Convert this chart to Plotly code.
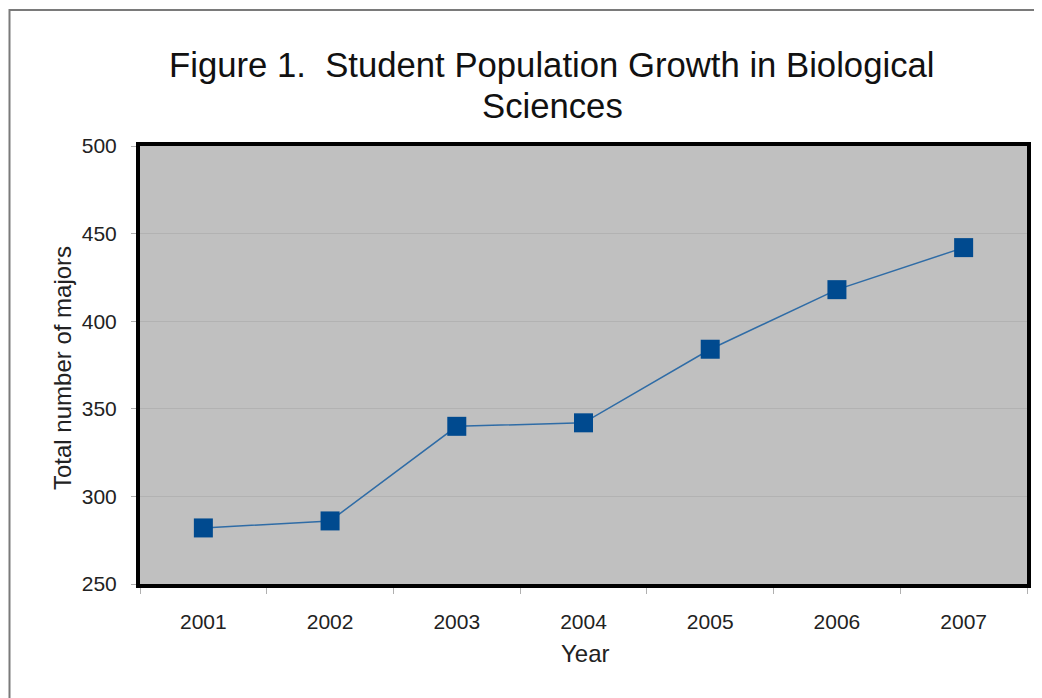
import plotly.graph_objects as go

years = ["2001", "2002", "2003", "2004", "2005", "2006", "2007"]
majors = [282, 286, 340, 342, 384, 418, 442]
y_ticks = [250, 300, 350, 400, 450, 500]

OFF = 8  # page body margin
W, H = 1042 - OFF, 698 - OFF
L, R, T, B = 140 - OFF, 1027 - OFF, 146 - OFF, 584 - OFF
pw, ph = R - L, B - T

def px_x(x):
    return (x - OFF - L) / pw

def px_y(y):
    return (B - (y - OFF)) / ph

FONT = "Liberation Sans, Arial, sans-serif"

fig = go.Figure()
fig.add_trace(go.Scatter(
    x=years, y=majors, mode="lines+markers",
    line=dict(color="#2f6ca6", width=1.5),
    marker=dict(symbol="square", size=19, color="#004a8f", line=dict(width=0)),
    showlegend=False,
))

fig.update_layout(
    width=W, height=H,
    margin=dict(l=L, r=W - R, t=T, b=H - B, pad=0),
    paper_bgcolor="white",
    plot_bgcolor="#c0c0c0",
    font=dict(family=FONT, color="#222222"),
    showlegend=False,
)

fig.update_xaxes(
    type="category", range=[-0.5, 6.5],
    showline=True, linecolor="black", linewidth=4, mirror=True,
    showgrid=False, zeroline=False,
    ticks="outside", tickson="boundaries", ticklen=6, tickcolor="#b0b0b0", tickwidth=1,
    tickfont=dict(size=21, family=FONT, color="#222222"),
    ticklabelstandoff=16,
)
fig.update_yaxes(
    range=[250, 500], tickvals=y_ticks,
    showline=True, linecolor="black", linewidth=4, mirror=True,
    showgrid=True, gridcolor="#b2b2b2", gridwidth=1, zeroline=False,
    ticks="outside", ticklen=5, tickcolor="#b0b0b0", tickwidth=1,
    tickfont=dict(size=21, family=FONT, color="#222222"),
    ticklabelstandoff=10,
)

# Title lines
fig.add_annotation(text="Figure 1.&nbsp; Student Population Growth in Biological",
                   xref="paper", yref="paper", x=px_x(552), y=px_y(65),
                   xanchor="center", yanchor="middle", showarrow=False,
                   font=dict(size=34.7, family=FONT, color="#111111"))
fig.add_annotation(text="Sciences",
                   xref="paper", yref="paper", x=px_x(552), y=px_y(106),
                   xanchor="center", yanchor="middle", showarrow=False,
                   font=dict(size=34.7, family=FONT, color="#111111"))
# Axis titles
fig.add_annotation(text="Total number of majors",
                   xref="paper", yref="paper", x=px_x(62), y=px_y(368),
                   xanchor="center", yanchor="middle", textangle=-90, showarrow=False,
                   font=dict(size=24, family=FONT, color="#222222"))
fig.add_annotation(text="Year",
                   xref="paper", yref="paper", x=px_x(585), y=px_y(653),
                   xanchor="center", yanchor="middle", showarrow=False,
                   font=dict(size=24, family=FONT, color="#222222"))

# Outer frame
fig.add_shape(type="rect", xref="paper", yref="paper",
              x0=px_x(9.5), x1=px_x(1200), y0=px_y(900), y1=px_y(10),
              line=dict(color="#7a7a7a", width=2), fillcolor="rgba(0,0,0,0)", layer="below")

fig.write_html("out.html")
